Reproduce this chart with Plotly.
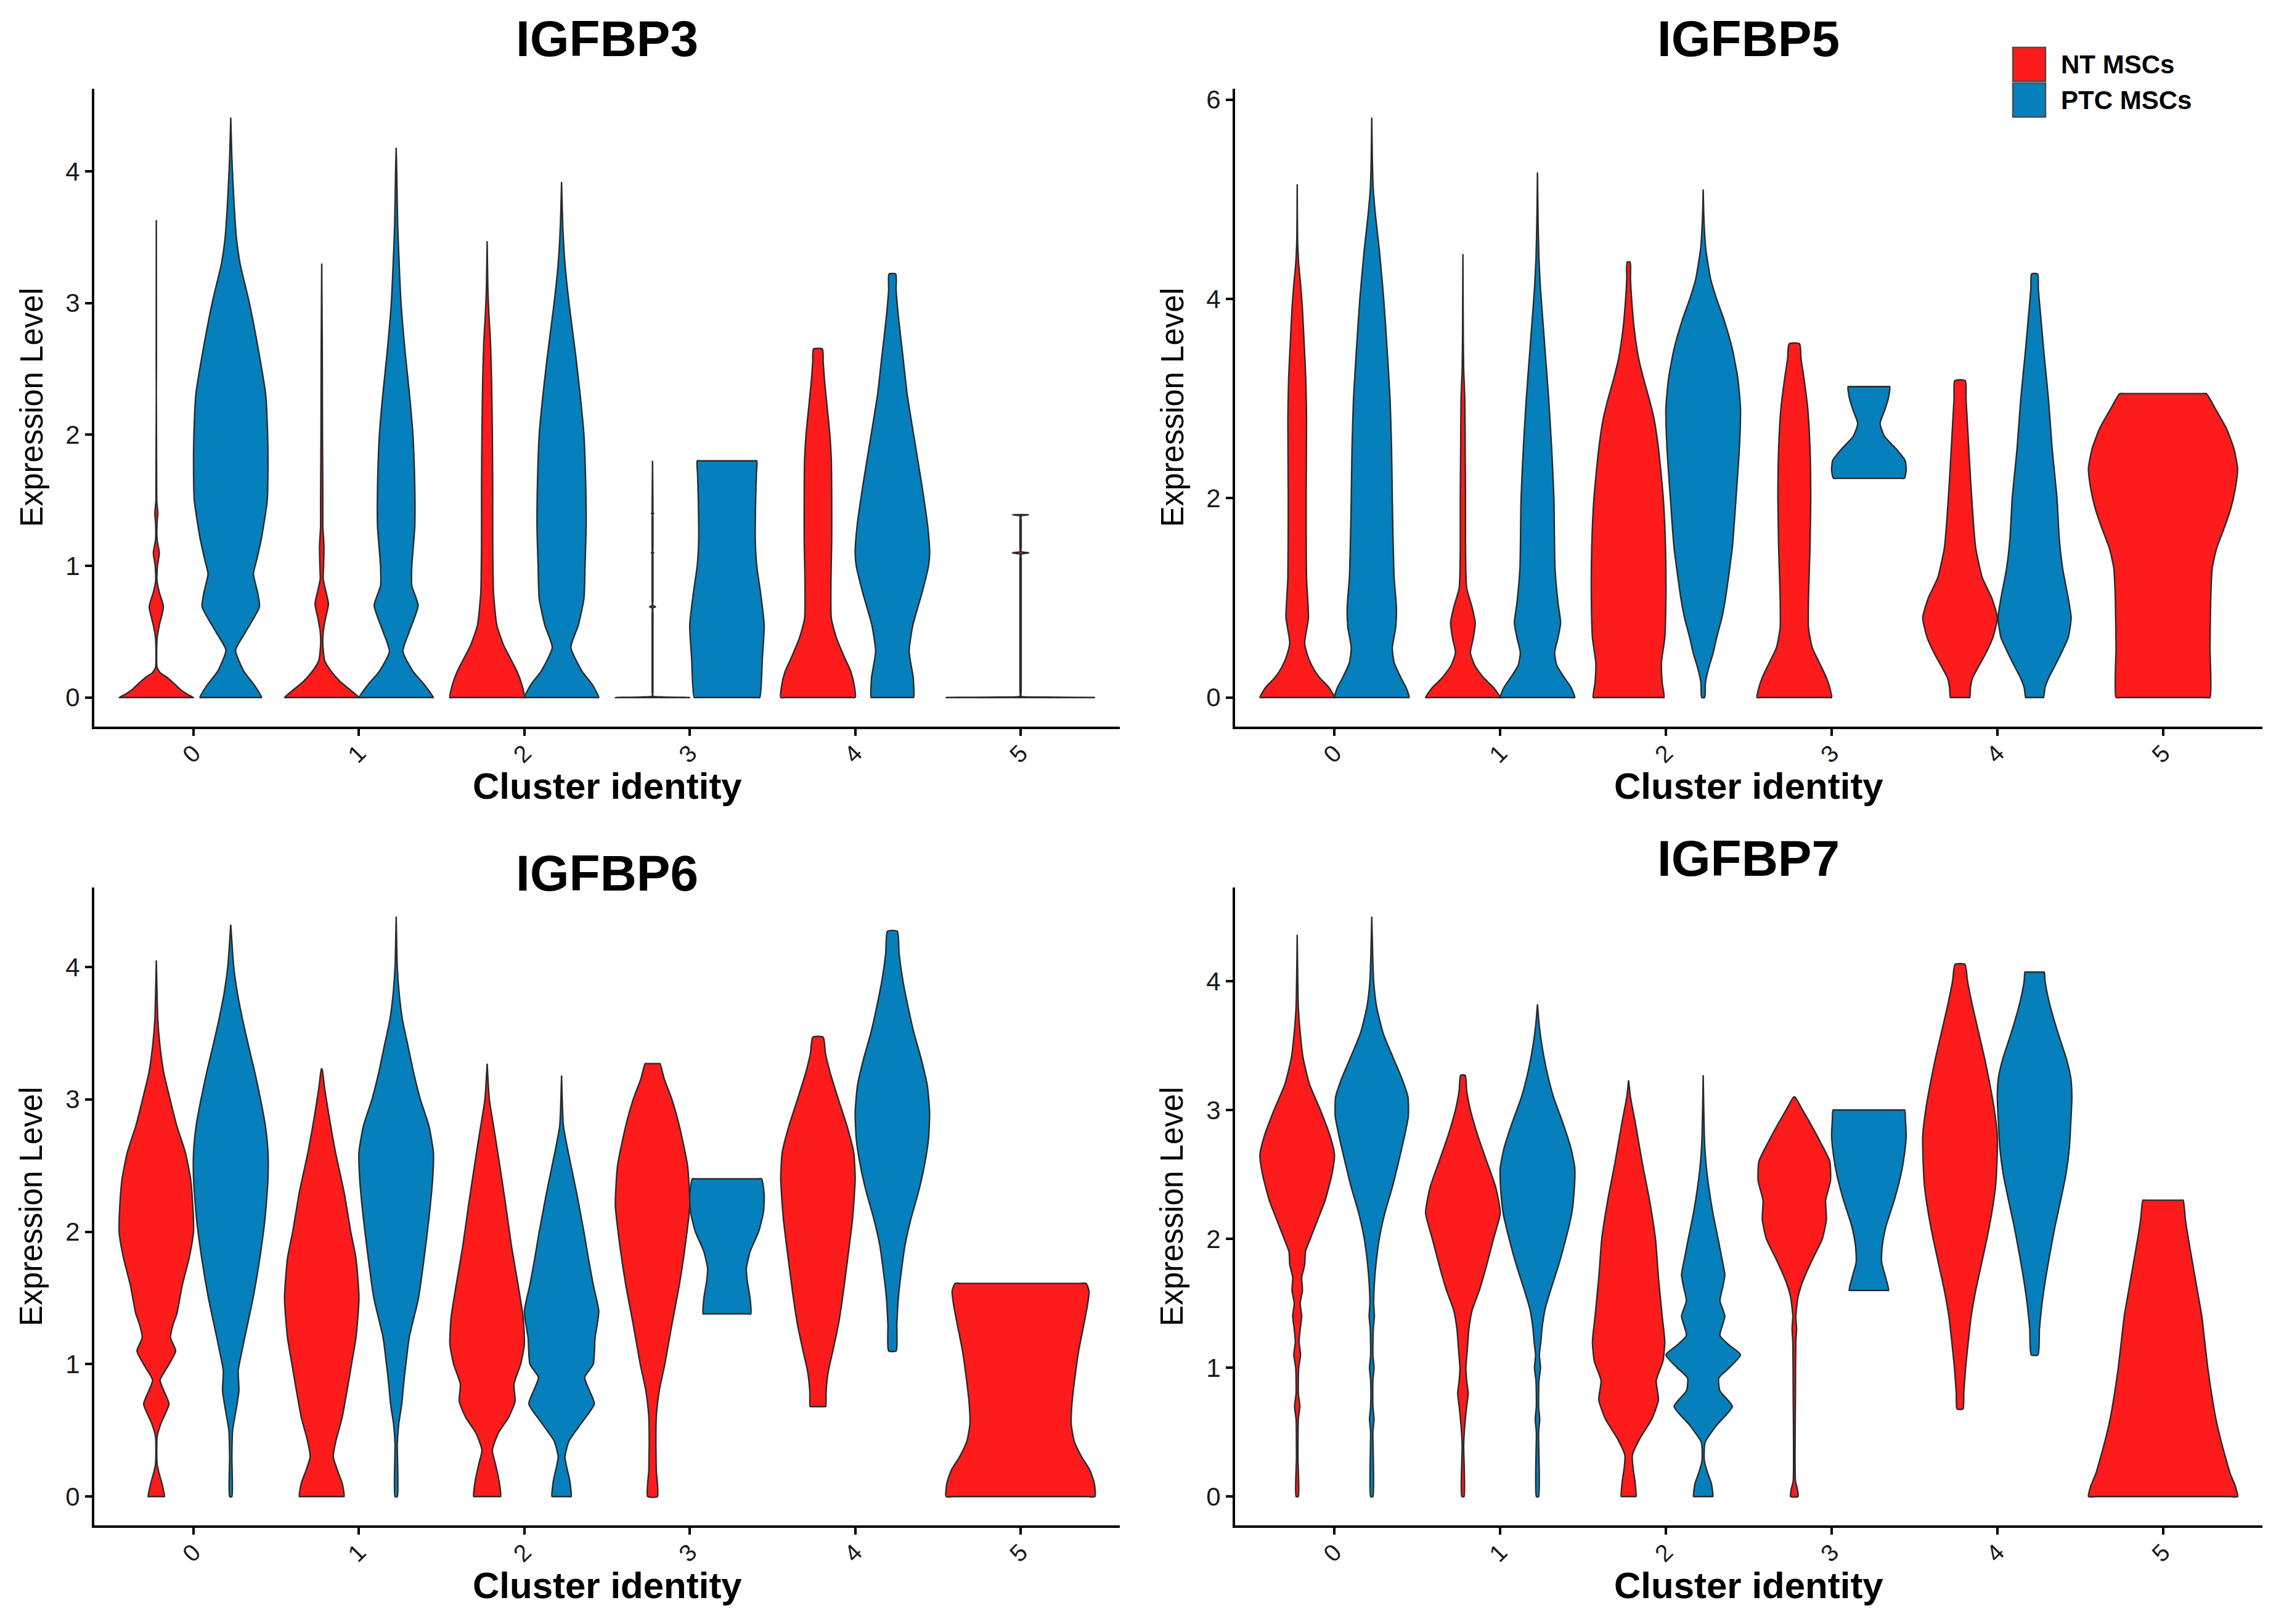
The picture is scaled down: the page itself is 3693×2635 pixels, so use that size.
import plotly.graph_objects as go

# ---------------- data ----------------
GENES = ["IGFBP3", "IGFBP5", "IGFBP6", "IGFBP7"]
CLUSTERS = [0, 1, 2, 3, 4, 5]
CLUSTER_LABELS = ["0", "1", "2", "3", "4", "5"]
GROUPS = ["NT MSCs", "PTC MSCs"]
COLORS = ["#FE1B1B", "#0680BC"]
Y_TICKS = {"IGFBP3": [0, 1, 2, 3, 4], "IGFBP5": [0, 2, 4, 6],
           "IGFBP6": [0, 1, 2, 3, 4], "IGFBP7": [0, 1, 2, 3, 4]}

# violin density profiles: (expression level, relative half-width 0..1)
IGFBP3_NT_0 = [(0, 1.0), (0.03, 0.8), (0.06, 0.65), (0.1, 0.5), (0.15, 0.3), (0.19, 0.1), (0.23, 0.02), (0.45, 0.02), (0.55, 0.08), (0.69, 0.19), (0.8, 0.08), (0.88, 0.02), (1.0, 0.03), (1.1, 0.08), (1.2, 0.02), (1.33, 0.02), (1.4, 0.04), (1.5, 0.01), (3.63, 0.0)]
IGFBP3_PTC_0 = [(0, 0.83), (0.1, 0.62), (0.2, 0.35), (0.36, 0.13), (0.5, 0.4), (0.69, 0.77), (0.8, 0.72), (0.94, 0.61), (1.05, 0.7), (1.22, 0.83), (1.5, 0.98), (1.8, 1.0), (2.0, 0.99), (2.3, 0.94), (2.6, 0.77), (3.0, 0.5), (3.3, 0.25), (3.5, 0.15), (3.8, 0.08), (4.1, 0.03), (4.41, 0.0)]
IGFBP3_NT_1 = [(0, 1.0), (0.05, 0.8), (0.12, 0.5), (0.2, 0.25), (0.28, 0.08), (0.4, 0.03), (0.5, 0.04), (0.6, 0.1), (0.71, 0.18), (0.82, 0.1), (0.9, 0.04), (1.0, 0.05), (1.15, 0.06), (1.3, 0.03), (1.5, 0.03), (2.0, 0.02), (2.6, 0.015), (3.3, 0.0)]
IGFBP3_PTC_1 = [(0, 1.0), (0.1, 0.75), (0.2, 0.45), (0.35, 0.18), (0.5, 0.35), (0.7, 0.59), (0.85, 0.42), (1.0, 0.42), (1.3, 0.5), (1.6, 0.5), (2.0, 0.45), (2.3, 0.36), (2.6, 0.25), (3.0, 0.13), (3.3, 0.08), (3.6, 0.04), (4.0, 0.015), (4.18, 0.0)]
IGFBP3_NT_2 = [(0, 1.0), (0.1, 0.93), (0.2, 0.8), (0.3, 0.62), (0.4, 0.44), (0.55, 0.26), (0.8, 0.17), (1.2, 0.15), (1.6, 0.15), (2.0, 0.14), (2.4, 0.12), (2.7, 0.09), (2.9, 0.05), (3.1, 0.02), (3.47, 0.0)]
IGFBP3_PTC_2 = [(0, 1.0), (0.1, 0.82), (0.2, 0.55), (0.38, 0.25), (0.55, 0.45), (0.75, 0.6), (1.0, 0.63), (1.3, 0.66), (1.6, 0.65), (2.0, 0.6), (2.3, 0.5), (2.6, 0.38), (3.0, 0.2), (3.3, 0.09), (3.6, 0.03), (3.92, 0.0)]
IGFBP3_NT_3 = [(0, 1.0), (0.004, 0.3), (0.01, 0.01), (0.05, 0.01), (0.64, 0.01), (0.68, 0.01), (0.69, 0.08), (0.70, 0.01), (0.74, 0.01), (1.06, 0.01), (1.095, 0.01), (1.1, 0.03), (1.105, 0.01), (1.14, 0.01), (1.36, 0.01), (1.395, 0.01), (1.4, 0.03), (1.405, 0.01), (1.44, 0.01), (1.8, 0.0)]
IGFBP3_PTC_3 = [(0, 0.88), (0.3, 0.95), (0.55, 1.0), (0.8, 0.9), (1.0, 0.8), (1.2, 0.76), (1.5, 0.77), (1.7, 0.79), (1.8, 0.8)]
IGFBP3_NT_4 = [(0, 1.0), (0.1, 0.97), (0.2, 0.88), (0.3, 0.72), (0.45, 0.5), (0.6, 0.36), (0.9, 0.35), (1.2, 0.37), (1.5, 0.37), (1.8, 0.36), (2.0, 0.32), (2.2, 0.25), (2.4, 0.18), (2.55, 0.14), (2.65, 0.12)]
IGFBP3_PTC_4 = [(0, 0.57), (0.15, 0.56), (0.35, 0.45), (0.55, 0.55), (0.8, 0.8), (1.0, 0.97), (1.1, 1.0), (1.3, 0.95), (1.6, 0.8), (2.0, 0.57), (2.3, 0.4), (2.6, 0.28), (2.9, 0.16), (3.1, 0.1), (3.22, 0.09)]
IGFBP3_NT_5 = [(0, 1.0), (0.004, 0.3), (0.01, 0.008), (0.05, 0.008), (1.05, 0.008), (1.09, 0.008), (1.1, 0.11), (1.11, 0.008), (1.15, 0.008), (1.34, 0.008), (1.38, 0.008), (1.39, 0.11)]

IGFBP5_NT_0 = [(0, 1.0), (0.1, 0.85), (0.2, 0.6), (0.3, 0.42), (0.42, 0.28), (0.55, 0.2), (0.8, 0.3), (1.2, 0.25), (2.0, 0.24), (2.8, 0.25), (3.2, 0.23), (3.6, 0.18), (3.9, 0.14), (4.15, 0.09), (4.35, 0.04), (4.6, 0.01), (5.15, 0.0)]
IGFBP5_PTC_0 = [(0, 1.0), (0.1, 0.92), (0.2, 0.78), (0.35, 0.6), (0.5, 0.55), (0.7, 0.64), (0.9, 0.66), (1.2, 0.6), (1.6, 0.57), (2.0, 0.55), (2.5, 0.53), (3.0, 0.49), (3.5, 0.41), (4.0, 0.32), (4.5, 0.2), (4.8, 0.11), (5.1, 0.04), (5.4, 0.015), (5.82, 0.0)]
IGFBP5_NT_1 = [(0, 1.0), (0.1, 0.82), (0.2, 0.55), (0.32, 0.32), (0.45, 0.2), (0.6, 0.28), (0.75, 0.33), (0.9, 0.25), (1.1, 0.1), (1.5, 0.07), (2.0, 0.07), (2.5, 0.06), (3.0, 0.05), (3.3, 0.02), (3.6, 0.01), (4.45, 0.0)]
IGFBP5_PTC_1 = [(0, 1.0), (0.1, 0.9), (0.2, 0.72), (0.32, 0.52), (0.45, 0.46), (0.6, 0.55), (0.75, 0.62), (0.95, 0.55), (1.3, 0.47), (2.0, 0.44), (2.5, 0.38), (3.0, 0.3), (3.5, 0.2), (3.8, 0.14), (4.1, 0.08), (4.4, 0.04), (4.8, 0.015), (5.27, 0.0)]
IGFBP5_NT_2 = [(0, 0.95), (0.15, 0.9), (0.35, 0.88), (0.6, 0.97), (1.0, 1.0), (1.5, 0.99), (2.0, 0.93), (2.5, 0.8), (2.8, 0.68), (3.0, 0.55), (3.2, 0.4), (3.4, 0.27), (3.7, 0.15), (4.0, 0.08), (4.2, 0.05), (4.37, 0.04)]
IGFBP5_PTC_2 = [(0, 0.04), (0.15, 0.06), (0.3, 0.15), (0.45, 0.27), (0.6, 0.36), (0.8, 0.5), (1.0, 0.6), (1.5, 0.78), (2.0, 0.88), (2.5, 0.97), (2.9, 1.0), (3.2, 0.93), (3.5, 0.78), (3.8, 0.55), (4.0, 0.36), (4.2, 0.2), (4.5, 0.07), (4.8, 0.02), (5.1, 0.0)]
IGFBP5_NT_3 = [(0, 1.0), (0.1, 0.95), (0.2, 0.86), (0.35, 0.67), (0.5, 0.48), (0.7, 0.38), (1.0, 0.38), (1.5, 0.42), (2.0, 0.44), (2.5, 0.42), (2.9, 0.36), (3.2, 0.26), (3.4, 0.18), (3.55, 0.14)]
IGFBP5_PTC_3 = [(2.2, 0.95), (2.28, 1.0), (2.38, 0.97), (2.5, 0.72), (2.62, 0.42), (2.75, 0.3), (2.88, 0.42), (3.0, 0.52), (3.12, 0.56)]
IGFBP5_NT_4 = [(0, 0.26), (0.1, 0.28), (0.2, 0.34), (0.3, 0.48), (0.45, 0.7), (0.6, 0.88), (0.8, 1.0), (1.0, 0.85), (1.2, 0.6), (1.5, 0.42), (1.8, 0.35), (2.2, 0.28), (2.6, 0.22), (3.0, 0.16), (3.18, 0.14)]
IGFBP5_PTC_4 = [(0, 0.24), (0.1, 0.28), (0.2, 0.38), (0.3, 0.52), (0.45, 0.72), (0.6, 0.9), (0.8, 0.98), (1.0, 0.9), (1.3, 0.75), (1.6, 0.66), (2.0, 0.6), (2.5, 0.47), (3.0, 0.37), (3.5, 0.24), (3.8, 0.17), (4.1, 0.1), (4.25, 0.08)]
IGFBP5_NT_5 = [(0, 0.63), (0.5, 0.63), (1.0, 0.64), (1.3, 0.66), (1.5, 0.72), (1.7, 0.82), (1.9, 0.91), (2.1, 0.97), (2.3, 1.0), (2.5, 0.95), (2.7, 0.85), (2.9, 0.7), (3.05, 0.58)]

IGFBP6_NT_0 = [(0, 0.22), (0.1, 0.15), (0.18, 0.07), (0.25, 0.02), (0.45, 0.02), (0.55, 0.12), (0.7, 0.34), (0.8, 0.2), (0.88, 0.1), (0.98, 0.3), (1.1, 0.52), (1.2, 0.38), (1.3, 0.45), (1.38, 0.55), (1.45, 0.6), (1.6, 0.7), (1.8, 0.88), (2.0, 1.0), (2.2, 0.98), (2.4, 0.92), (2.6, 0.78), (2.8, 0.55), (3.0, 0.37), (3.2, 0.2), (3.4, 0.1), (3.6, 0.04), (4.05, 0.0)]
IGFBP6_PTC_0 = [(0, 0.03), (0.3, 0.03), (0.5, 0.05), (0.65, 0.14), (0.8, 0.22), (0.95, 0.2), (1.1, 0.3), (1.3, 0.45), (1.5, 0.6), (1.8, 0.78), (2.1, 0.92), (2.4, 1.0), (2.6, 1.0), (2.8, 0.93), (3.0, 0.8), (3.2, 0.65), (3.4, 0.48), (3.6, 0.32), (3.8, 0.18), (4.0, 0.08), (4.32, 0.0)]
IGFBP6_NT_1 = [(0, 0.6), (0.1, 0.55), (0.2, 0.42), (0.3, 0.31), (0.42, 0.38), (0.6, 0.55), (0.8, 0.68), (1.0, 0.8), (1.2, 0.92), (1.5, 1.0), (1.8, 0.92), (2.0, 0.78), (2.3, 0.6), (2.6, 0.37), (2.9, 0.18), (3.1, 0.07), (3.23, 0.01)]
IGFBP6_PTC_1 = [(0, 0.03), (0.4, 0.03), (0.55, 0.07), (0.7, 0.15), (0.85, 0.2), (1.0, 0.26), (1.2, 0.35), (1.5, 0.6), (1.8, 0.75), (2.1, 0.88), (2.4, 0.98), (2.6, 1.0), (2.8, 0.88), (3.0, 0.65), (3.2, 0.47), (3.4, 0.32), (3.6, 0.17), (3.8, 0.08), (4.0, 0.03), (4.38, 0.0)]
IGFBP6_NT_2 = [(0, 0.36), (0.12, 0.32), (0.25, 0.22), (0.35, 0.14), (0.48, 0.3), (0.6, 0.58), (0.72, 0.75), (0.85, 0.72), (1.0, 0.9), (1.15, 1.0), (1.35, 0.97), (1.6, 0.83), (1.9, 0.65), (2.2, 0.5), (2.5, 0.34), (2.75, 0.2), (3.0, 0.06), (3.27, 0.0)]
IGFBP6_PTC_2 = [(0, 0.26), (0.12, 0.22), (0.22, 0.14), (0.3, 0.09), (0.42, 0.2), (0.55, 0.52), (0.7, 0.88), (0.8, 0.75), (0.9, 0.62), (1.0, 0.85), (1.2, 0.9), (1.4, 1.0), (1.6, 0.85), (1.8, 0.72), (2.0, 0.6), (2.3, 0.4), (2.6, 0.18), (2.8, 0.05), (3.18, 0.0)]
IGFBP6_NT_3 = [(0, 0.13), (0.2, 0.1), (0.4, 0.09), (0.6, 0.1), (0.8, 0.18), (1.0, 0.33), (1.3, 0.52), (1.6, 0.72), (1.9, 0.88), (2.2, 1.0), (2.5, 0.94), (2.8, 0.72), (3.0, 0.52), (3.15, 0.32), (3.27, 0.2)]
IGFBP6_PTC_3 = [(1.38, 0.64), (1.5, 0.62), (1.62, 0.55), (1.72, 0.52), (1.85, 0.62), (2.0, 0.85), (2.15, 0.98), (2.28, 1.0), (2.4, 0.93)]
IGFBP6_NT_4 = [(0.68, 0.21), (0.8, 0.22), (0.95, 0.28), (1.1, 0.4), (1.3, 0.55), (1.5, 0.66), (1.8, 0.8), (2.1, 0.93), (2.4, 1.0), (2.6, 0.96), (2.8, 0.78), (3.0, 0.55), (3.2, 0.33), (3.35, 0.2), (3.47, 0.14)]
IGFBP6_PTC_4 = [(1.1, 0.1), (1.3, 0.12), (1.5, 0.16), (1.7, 0.24), (1.9, 0.34), (2.1, 0.5), (2.3, 0.7), (2.5, 0.86), (2.7, 0.97), (2.9, 1.0), (3.1, 0.94), (3.3, 0.78), (3.5, 0.58), (3.7, 0.42), (3.9, 0.28), (4.1, 0.18), (4.27, 0.13)]
IGFBP6_NT_5 = [(0, 1.0), (0.1, 0.99), (0.2, 0.93), (0.3, 0.82), (0.42, 0.72), (0.55, 0.68), (0.7, 0.69), (0.9, 0.73), (1.1, 0.78), (1.3, 0.85), (1.45, 0.9), (1.55, 0.92), (1.61, 0.88)]

IGFBP7_NT_0 = [(0, 0.03), (0.3, 0.02), (0.6, 0.03), (0.7, 0.07), (0.8, 0.03), (1.0, 0.04), (1.1, 0.09), (1.2, 0.05), (1.3, 0.08), (1.4, 0.12), (1.5, 0.08), (1.6, 0.14), (1.7, 0.12), (1.8, 0.2), (1.9, 0.22), (2.0, 0.35), (2.15, 0.55), (2.3, 0.75), (2.5, 0.93), (2.65, 1.0), (2.8, 0.88), (3.0, 0.62), (3.2, 0.33), (3.4, 0.16), (3.6, 0.08), (3.8, 0.03), (4.36, 0.0)]
IGFBP7_PTC_0 = [(0, 0.03), (0.5, 0.03), (0.6, 0.06), (0.7, 0.03), (0.9, 0.03), (1.0, 0.06), (1.1, 0.03), (1.3, 0.04), (1.4, 0.07), (1.5, 0.05), (1.7, 0.08), (1.85, 0.13), (2.0, 0.2), (2.2, 0.35), (2.4, 0.55), (2.6, 0.72), (2.8, 0.88), (2.95, 0.98), (3.1, 0.97), (3.25, 0.8), (3.4, 0.58), (3.6, 0.3), (3.8, 0.13), (4.0, 0.05), (4.5, 0.0)]
IGFBP7_NT_1 = [(0, 0.03), (0.4, 0.02), (0.55, 0.05), (0.7, 0.1), (0.8, 0.14), (0.9, 0.1), (1.0, 0.08), (1.15, 0.12), (1.3, 0.16), (1.45, 0.25), (1.6, 0.44), (1.8, 0.64), (2.0, 0.82), (2.2, 1.0), (2.4, 0.88), (2.6, 0.64), (2.8, 0.4), (3.0, 0.2), (3.15, 0.1), (3.27, 0.06)]
IGFBP7_PTC_1 = [(0, 0.03), (0.5, 0.03), (0.6, 0.06), (0.7, 0.03), (0.9, 0.04), (1.0, 0.08), (1.1, 0.05), (1.2, 0.09), (1.3, 0.12), (1.45, 0.2), (1.6, 0.35), (1.8, 0.57), (2.0, 0.76), (2.2, 0.92), (2.4, 0.99), (2.55, 1.0), (2.7, 0.9), (2.9, 0.68), (3.1, 0.43), (3.3, 0.25), (3.5, 0.12), (3.65, 0.05), (3.82, 0.0)]
IGFBP7_NT_2 = [(0, 0.2), (0.12, 0.17), (0.22, 0.12), (0.32, 0.1), (0.45, 0.3), (0.6, 0.62), (0.75, 0.8), (0.9, 0.74), (1.05, 0.92), (1.2, 0.97), (1.4, 0.9), (1.7, 0.8), (2.0, 0.72), (2.3, 0.56), (2.6, 0.36), (2.9, 0.18), (3.1, 0.05), (3.23, 0.0)]
IGFBP7_PTC_2 = [(0, 0.26), (0.1, 0.22), (0.2, 0.1), (0.28, 0.03), (0.42, 0.05), (0.55, 0.35), (0.7, 0.78), (0.82, 0.45), (0.92, 0.42), (1.0, 0.7), (1.1, 1.0), (1.18, 0.68), (1.25, 0.45), (1.4, 0.58), (1.52, 0.45), (1.62, 0.52), (1.72, 0.58), (1.85, 0.5), (2.0, 0.4), (2.2, 0.26), (2.4, 0.15), (2.6, 0.07), (2.8, 0.03), (3.27, 0.0)]
IGFBP7_NT_3 = [(0, 0.1), (0.06, 0.08), (0.12, 0.03), (0.8, 0.03), (1.2, 0.04), (1.3, 0.06), (1.4, 0.04), (1.55, 0.1), (1.65, 0.2), (1.75, 0.34), (1.85, 0.5), (2.0, 0.75), (2.15, 0.86), (2.3, 0.84), (2.45, 0.97), (2.6, 0.95), (2.75, 0.7), (2.9, 0.42), (3.0, 0.22), (3.1, 0.02)]
IGFBP7_PTC_3 = [(1.6, 0.53), (1.7, 0.45), (1.82, 0.34), (1.95, 0.36), (2.1, 0.46), (2.3, 0.68), (2.5, 0.86), (2.65, 0.95), (2.8, 1.0), (2.92, 0.98), (3.0, 0.96)]
IGFBP7_NT_4 = [(0.68, 0.08), (0.8, 0.1), (1.0, 0.15), (1.2, 0.22), (1.4, 0.3), (1.6, 0.42), (1.8, 0.57), (2.0, 0.72), (2.2, 0.85), (2.4, 0.95), (2.6, 0.99), (2.8, 1.0), (3.0, 0.92), (3.2, 0.8), (3.4, 0.66), (3.6, 0.5), (3.8, 0.34), (4.0, 0.2), (4.13, 0.13)]
IGFBP7_PTC_4 = [(1.1, 0.09), (1.3, 0.13), (1.5, 0.2), (1.7, 0.3), (1.9, 0.42), (2.1, 0.55), (2.3, 0.7), (2.5, 0.84), (2.7, 0.93), (2.9, 0.97), (3.1, 1.0), (3.25, 0.97), (3.4, 0.85), (3.55, 0.68), (3.7, 0.52), (3.85, 0.38), (4.0, 0.28), (4.07, 0.26)]
IGFBP7_NT_5 = [(0, 1.0), (0.08, 0.97), (0.18, 0.9), (0.3, 0.84), (0.45, 0.77), (0.6, 0.71), (0.8, 0.65), (1.0, 0.6), (1.2, 0.56), (1.4, 0.52), (1.6, 0.46), (1.8, 0.4), (2.0, 0.34), (2.15, 0.3), (2.3, 0.27)]

# lookup table built from the named profiles above
PROFILES = {}
for _g in GENES:
    for _grp, _key in zip(GROUPS, ["NT", "PTC"]):
        for _c in CLUSTERS:
            PROFILES[(_g, _grp, _c)] = globals().get(f"{_g}_{_key}_{_c}")

# ---------------- layout geometry ----------------
W, H = 3693, 2635
FONT = "Liberation Sans, Arial, sans-serif"
X_DOM = [[145 / W, 1809 / W], [1996 / W, 3663 / W]]
Y_DOM = [[1 - 1168 / H, 1 - 131 / H], [1 - 2467 / H, 1 - 1430 / H]]
PANEL_POS = [(0, 0), (1, 0), (0, 1), (1, 1)]  # (col, row)
TITLE_Y = [50, 50, 1406, 1382]
VIOLIN_WIDTH = 0.9
LINE_COLOR = "#2a2a2a"
EDGE_F = 0.9  # keeps flat violin ends straight under spline smoothing

fig = go.Figure()
layout = dict(width=W, height=H, margin=dict(l=0, r=0, t=0, b=0),
              paper_bgcolor="white", plot_bgcolor="white", showlegend=False,
              font=dict(family=FONT, color="black"))
annotations = []
shapes = []

for i, gene in enumerate(GENES):
    col, row = PANEL_POS[i]
    sfx = "" if i == 0 else str(i + 1)
    xa, ya = "x" + sfx, "y" + sfx
    ymax = max(p[0] for (g, grp, c), prof in PROFILES.items() if g == gene and prof for p in prof)
    for c in CLUSTERS:
        present = [k for k, grp in enumerate(GROUPS) if PROFILES[(gene, grp, c)]]
        n = len(present)
        for slot, k in enumerate(present):
            prof = PROFILES[(gene, GROUPS[k], c)]
            hw = VIOLIN_WIDTH / n / 2
            center = c - VIOLIN_WIDTH / 2 + hw * (2 * slot + 1)
            right = [(center + w * hw, y) for y, w in prof]
            left = [(center - w * hw, y) for y, w in prof[::-1]]
            (y_bot, w_bot), (y_top, w_top) = prof[0], prof[-1]
            path = list(right)
            if w_top >= 0.2:
                path += [(center + EDGE_F * w_top * hw, y_top), (center - EDGE_F * w_top * hw, y_top)]
            path += left
            if w_bot >= 0.2:
                path += [(center - EDGE_F * w_bot * hw, y_bot), (center + EDGE_F * w_bot * hw, y_bot)]
            path.append(right[0])
            fig.add_trace(go.Scatter(
                x=[p[0] for p in path], y=[p[1] for p in path], xaxis=xa, yaxis=ya,
                mode="lines", fill="toself", fillcolor=COLORS[k], hoverinfo="skip",
                line=dict(color=LINE_COLOR, width=2.4, shape="spline", smoothing=0.55)))
    axis_common = dict(showline=True, linecolor="black", linewidth=4, ticks="outside",
                       ticklen=11, tickwidth=4, tickcolor="black", showgrid=False,
                       zeroline=False)
    layout["xaxis" + sfx] = dict(domain=X_DOM[col], anchor=ya, range=[-0.6, 5.6],
                                 tickvals=CLUSTERS, ticktext=CLUSTER_LABELS, tickangle=-45,
                                 ticklabelstandoff=-10,
                                 tickfont=dict(size=39, color="#1a1a1a", family=FONT),
                                 **axis_common)
    layout["yaxis" + sfx] = dict(domain=Y_DOM[row], anchor=xa,
                                 range=[-0.05 * ymax, 1.05 * ymax],
                                 tickvals=Y_TICKS[gene],
                                 tickfont=dict(size=42, color="#1a1a1a", family=FONT),
                                 **axis_common)
    xc = (X_DOM[col][0] + X_DOM[col][1]) / 2
    yc = (Y_DOM[row][0] + Y_DOM[row][1]) / 2
    annotations.append(dict(text=f"<b>{gene}</b>", xref="paper", yref="paper", x=xc,
                            y=1 - TITLE_Y[i] / H, xanchor="center", yanchor="middle",
                            showarrow=False, font=dict(size=82, family=FONT, color="black")))
    annotations.append(dict(text="<b>Cluster identity</b>", xref="paper", yref="paper", x=xc,
                            y=Y_DOM[row][0] - 0.0368, xanchor="center", yanchor="middle",
                            showarrow=False, font=dict(size=60, family=FONT, color="black")))
    annotations.append(dict(text="Expression Level", xref="paper", yref="paper",
                            x=X_DOM[col][0] - 0.0276, y=yc, textangle=-90,
                            xanchor="center", yanchor="middle", showarrow=False,
                            font=dict(size=51, family=FONT, color="black")))

# legend (keys + labels)
LEG_X0, LEG_X1 = 3258 / W, 3311 / W
LEG_ROWS = [(64, 119), (122, 177)]
for k, grp in enumerate(GROUPS):
    top, bot = LEG_ROWS[k]
    shapes.append(dict(type="rect", xref="paper", yref="paper", x0=LEG_X0, x1=LEG_X1,
                       y0=1 - bot / H, y1=1 - top / H, fillcolor=COLORS[k],
                       line=dict(color="#4d4d4d", width=2.5)))
    annotations.append(dict(text=f"<b>{grp}</b>", xref="paper", yref="paper", x=3334 / W,
                            y=1 - (top + bot) / 2 / H, xanchor="left", yanchor="middle",
                            showarrow=False, font=dict(size=42, family=FONT, color="black")))

layout["annotations"] = annotations
layout["shapes"] = shapes
fig.update_layout(**layout)
fig.write_html("out.html")
